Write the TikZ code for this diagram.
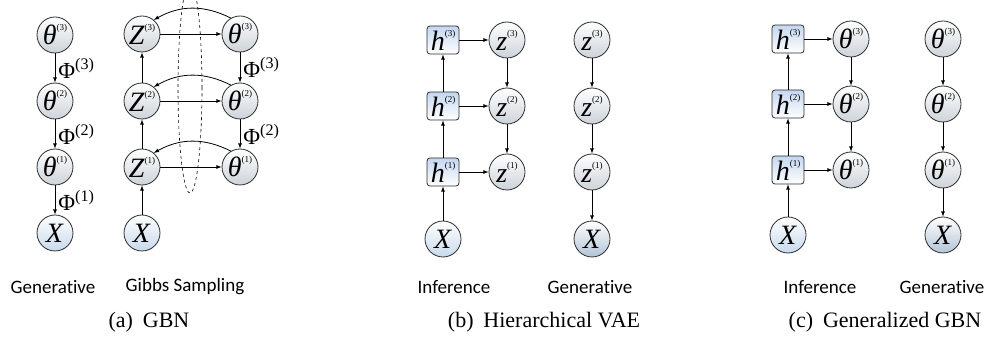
\documentclass[tikz,border=0pt]{standalone}
\usepackage{fontspec}
\setmainfont{Liberation Serif}
\newfontfamily\calibri[Ligatures=NoCommon]{Carlito}
\usetikzlibrary{arrows,positioning,shapes}
\definecolor{nodegray}{RGB}{205,211,218}
\definecolor{nodeblue}{RGB}{196,215,240}
\definecolor{obsblue}{RGB}{200,218,236}
\definecolor{obsdark}{RGB}{178,196,214}
\definecolor{edgegray}{RGB}{45,45,45}
\tikzstyle{latent}=[circle,draw=edgegray,line width=0.8pt,minimum size=36pt,inner sep=0pt,top color=white,bottom color=nodegray,font=\fontsize{28}{28}\selectfont]
\tikzstyle{observed}=[latent,bottom color=obsblue]
\tikzstyle{observedgen}=[latent,bottom color=obsdark]
\tikzstyle{hidden}=[rectangle,rounded corners=3pt,draw=edgegray,line width=0.8pt,minimum width=32pt,minimum height=28pt,inner sep=0pt,top color=nodeblue,bottom color=white,font=\fontsize{28}{28}\selectfont]
\tikzstyle{arrow}=[draw,-latex,line width=0.8pt]
\tikzstyle{sublabel}=[font=\calibri\fontsize{19}{19}\selectfont]
\tikzstyle{caption}=[font=\fontsize{22}{22}\selectfont]
\tikzstyle{philabel}=[font=\fontsize{23}{23}\selectfont,right,inner sep=3pt]
\newcommand{\nv}[2]{\textit{#1}\raisebox{0.5em}{\fontsize{9}{9}\selectfont(#2)}}
\newcommand{\phil}[1]{Φ\textsuperscript{(#1)}}

\begin{document}
\begin{tikzpicture}[x=1pt,y=1pt]
    \useasboundingbox (0,0) rectangle (989,-339);

    % (a) GBN
    \draw[dashed,line width=0.6pt] (190,-88) ellipse (12pt and 105pt);

    \node[latent] at (55,-35) (ga3) {\nv{θ}{3}};
    \node[latent] at (55,-101) (ga2) {\nv{θ}{2}};
    \node[latent] at (55,-167) (ga1) {\nv{θ}{1}};
    \node[observed] at (55,-233) (gax) {\textit{X}};

    \draw[arrow] (ga3) -- node[philabel] {\phil{3}} (ga2);
    \draw[arrow] (ga2) -- node[philabel] {\phil{2}} (ga1);
    \draw[arrow] (ga1) -- node[philabel] {\phil{1}} (gax);

    \node[latent] at (142,-34) (gz3) {\nv{Z}{3}};
    \node[latent] at (142,-101) (gz2) {\nv{Z}{2}};
    \node[latent] at (142,-167) (gz1) {\nv{Z}{1}};
    \node[observed] at (142,-233) (gsx) {\textit{X}};
    \node[latent] at (240,-34) (gt3) {\nv{θ}{3}};
    \node[latent] at (240,-101) (gt2) {\nv{θ}{2}};
    \node[latent] at (240,-167) (gt1) {\nv{θ}{1}};

    \draw[arrow] (gsx) -- (gz1);
    \draw[arrow] (gz1) -- (gz2);
    \draw[arrow] (gz2) -- (gz3);
    \draw[arrow] (gz3) -- (gt3);
    \draw[arrow] (gz2) -- (gt2);
    \draw[arrow] (gz1) -- (gt1);
    \draw[arrow] (gt3.120) to[bend right=28] (gz3.50);
    \draw[arrow] (gt2.120) to[bend right=28] (gz2.50);
    \draw[arrow] (gt1.120) to[bend right=28] (gz1.50);
    \draw[arrow] (gt3) -- node[philabel] {\phil{3}} (gt2);
    \draw[arrow] (gt2) -- node[philabel] {\phil{2}} (gt1);

    \node[sublabel] at (53,-287) (labgen) {Generative};
    \node[sublabel] at (185,-287) (labgibbs) {Gibbs Sampling};
    \node[caption] at (149,-322) (capa) {(a)\hspace{0.45em}GBN};

    % (b) Hierarchical VAE
    \node[hidden] at (443,-40) (vh3) {\nv{h}{3}};
    \node[hidden] at (443,-106) (vh2) {\nv{h}{2}};
    \node[hidden] at (443,-172) (vh1) {\nv{h}{1}};
    \node[observed] at (443,-239) (vx) {\textit{X}};
    \node[latent] at (507,-40) (vz3) {\nv{z}{3}};
    \node[latent] at (507,-106) (vz2) {\nv{z}{2}};
    \node[latent] at (507,-172) (vz1) {\nv{z}{1}};

    \draw[arrow] (vx) -- (vh1);
    \draw[arrow] (vh1) -- (vh2);
    \draw[arrow] (vh2) -- (vh3);
    \draw[arrow] (vh3) -- (vz3);
    \draw[arrow] (vh2) -- (vz2);
    \draw[arrow] (vh1) -- (vz1);
    \draw[arrow] (vz3) -- (vz2);
    \draw[arrow] (vz2) -- (vz1);

    \node[latent] at (592,-40) (vg3) {\nv{z}{3}};
    \node[latent] at (592,-106) (vg2) {\nv{z}{2}};
    \node[latent] at (592,-172) (vg1) {\nv{z}{1}};
    \node[observedgen] at (592,-239) (vgx) {\textit{X}};

    \draw[arrow] (vg3) -- (vg2);
    \draw[arrow] (vg2) -- (vg1);
    \draw[arrow] (vg1) -- (vgx);

    \node[sublabel] at (454,-287) (labinfb) {Inference};
    \node[sublabel] at (590,-287) (labgenb) {Generative};
    \node[caption] at (544,-322) (capb) {(b)\hspace{0.45em}Hierarchical VAE};

    % (c) Generalized GBN
    \node[hidden] at (788,-39) (ch3) {\nv{h}{3}};
    \node[hidden] at (788,-104) (ch2) {\nv{h}{2}};
    \node[hidden] at (788,-170) (ch1) {\nv{h}{1}};
    \node[observed] at (788,-235) (cx) {\textit{X}};
    \node[latent] at (851,-39) (ct3) {\nv{θ}{3}};
    \node[latent] at (851,-104) (ct2) {\nv{θ}{2}};
    \node[latent] at (851,-170) (ct1) {\nv{θ}{1}};

    \draw[arrow] (cx) -- (ch1);
    \draw[arrow] (ch1) -- (ch2);
    \draw[arrow] (ch2) -- (ch3);
    \draw[arrow] (ch3) -- (ct3);
    \draw[arrow] (ch2) -- (ct2);
    \draw[arrow] (ch1) -- (ct1);
    \draw[arrow] (ct3) -- (ct2);
    \draw[arrow] (ct2) -- (ct1);

    \node[latent] at (943,-39) (cg3) {\nv{θ}{3}};
    \node[latent] at (943,-104) (cg2) {\nv{θ}{2}};
    \node[latent] at (943,-170) (cg1) {\nv{θ}{1}};
    \node[observedgen] at (943,-235) (cgx) {\textit{X}};

    \draw[arrow] (cg3) -- (cg2);
    \draw[arrow] (cg2) -- (cg1);
    \draw[arrow] (cg1) -- (cgx);

    \node[sublabel] at (820,-287) (labinfc) {Inference};
    \node[sublabel] at (942,-287) (labgenc) {Generative};
    \node[caption] at (885,-322) (capc) {(c)\hspace{0.45em}Generalized GBN};
\end{tikzpicture}
\end{document}
